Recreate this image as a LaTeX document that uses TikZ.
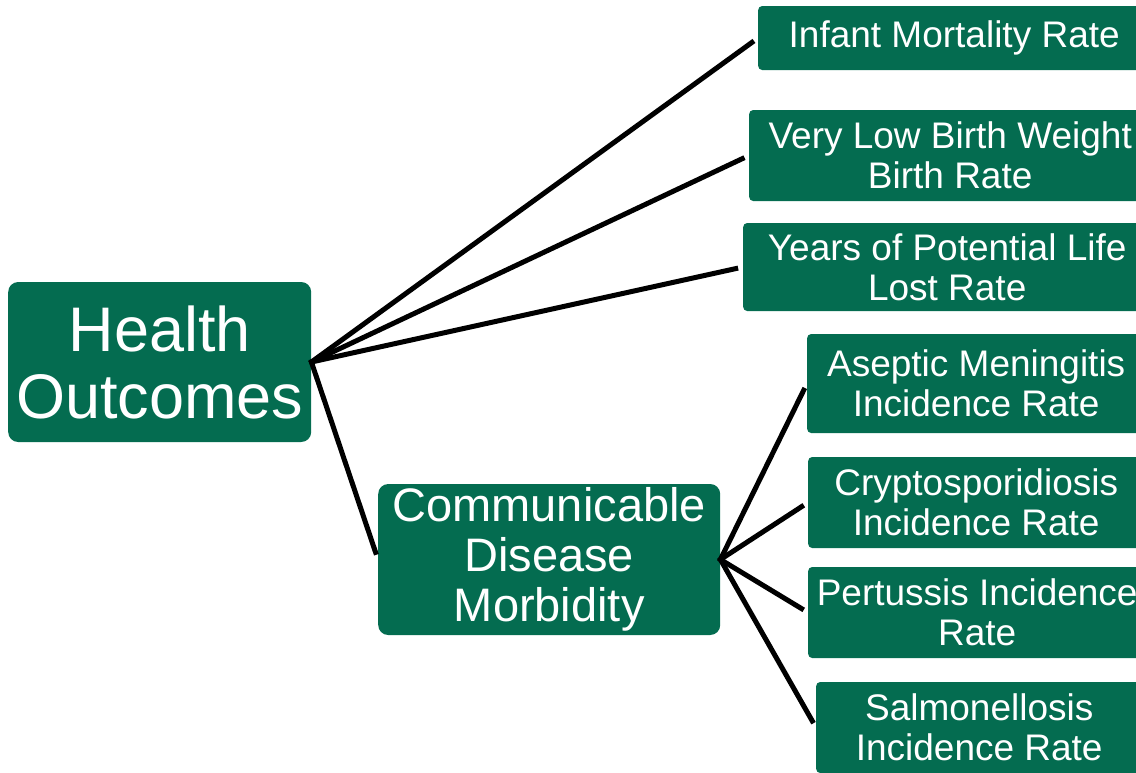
\documentclass[tikz,border=0pt]{standalone}
\usepackage{fontspec}
\setmainfont{Liberation Sans}
\usetikzlibrary{positioning}
\definecolor{hgreen}{RGB}{4,108,80}

\begin{document}
\begin{tikzpicture}[x=1pt, y=-1pt,
  box/.style={fill=hgreen, text=white, rounded corners=4pt, align=center, inner sep=0pt, anchor=west, font=\fontsize{37}{40}\selectfont},
  root/.style={box, rounded corners=10pt, font=\fontsize{63}{67}\selectfont},
  mid/.style={box, rounded corners=10pt, font=\fontsize{47}{50}\selectfont},
  link/.style={line width=5pt, shorten <=-2pt, shorten >=5pt}]
\useasboundingbox (0,0) rectangle (1136,772);
\node[root, minimum width=303pt, minimum height=160pt] (ho) at (8,362) {Health\\Outcomes};
\node[mid, minimum width=342pt, minimum height=151pt] (cdm) at (378,559.5) {Communicable\\Disease\\Morbidity};
\node[box, minimum width=392pt, minimum height=64pt] (imr) at (758,38) {Infant Mortality Rate};
\node[box, minimum width=402pt, minimum height=91pt] (vlbw) at (749,155.5) {Very Low Birth Weight\\Birth Rate};
\node[box, minimum width=408pt, minimum height=88pt] (ypll) at (743,267) {Years of Potential Life\\Lost Rate};
\node[box, minimum width=338pt, minimum height=99pt] (asep) at (807,383.5) {Aseptic Meningitis\\Incidence Rate};
\node[box, minimum width=336pt, minimum height=91pt] (crypto) at (808,502.5) {Cryptosporidiosis\\Incidence Rate};
\node[box, minimum width=338pt, minimum height=91pt] (pert) at (808,612.5) {Pertussis Incidence\\Rate};
\node[box, minimum width=326pt, minimum height=91pt] (salm) at (816,727.5) {Salmonellosis\\Incidence Rate};
\draw[link] (ho.east) -- (imr.west); \draw[link] (ho.east) -- (vlbw.west);
\draw[link] (ho.east) -- (ypll.west); \draw[link] (ho.east) -- (cdm.west);
\draw[link] (cdm.east) -- (asep.west); \draw[link] (cdm.east) -- (crypto.west);
\draw[link] (cdm.east) -- (pert.west); \draw[link] (cdm.east) -- (salm.west);
\end{tikzpicture}
\end{document}
